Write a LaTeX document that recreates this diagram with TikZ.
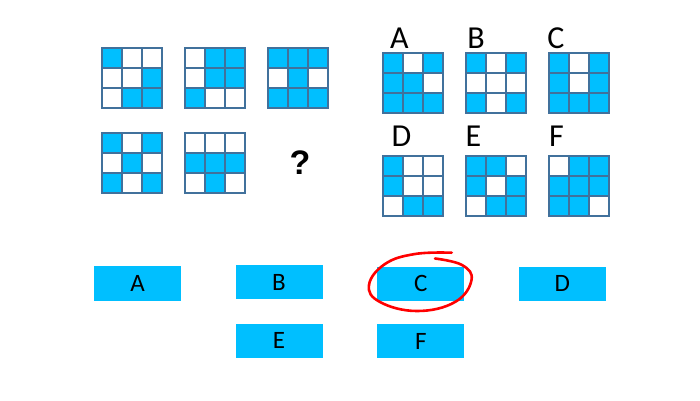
\documentclass[tikz,border=0pt]{standalone}
\usepackage{fontspec}
\setmainfont{Carlito}
\newfontfamily\qfont{Liberation Sans}
\usepackage{tikz}
\usetikzlibrary{positioning}
\definecolor{sky}{RGB}{0,191,255}
\definecolor{edge}{RGB}{65,113,156}
\tikzset{cell/.style={draw=edge, line width=1.3pt, fill=sky},
	choice/.style={fill=sky, minimum width=87pt, minimum height=34.5pt, inner sep=0pt, font=\fontsize{25}{28}\selectfont},
	tag/.style={anchor=base, inner sep=0pt, font=\fontsize{32}{36}\selectfont}}
% one 3x3 panel: top left corner, then the rows (1 = blue)
\newcommand{\Grid}[3]{%
	\foreach \a/\b/\c [count=\r from 0] in {#3}
		\foreach \v [count=\k from 0] in {\a,\b,\c}
			\draw[cell, fill opacity=\v] (#1+20*\k, #2+20*\r) rectangle ++(20,20);}

\begin{document}
\begin{tikzpicture}[x=1pt, y=-1pt]
			\useasboundingbox[fill=white] (0,0) rectangle (700,400);

			% the sequence
			\Grid{102}{48}{1/0/0, 0/0/1, 0/1/1}
			\Grid{185}{48}{0/1/1, 0/1/1, 1/0/0}
			\Grid{268}{48}{1/1/1, 0/1/0, 1/1/1}
			\Grid{102}{133}{1/0/1, 0/1/0, 1/0/1}
			\Grid{185}{133}{0/0/0, 1/1/1, 0/1/0}
			\node[font=\qfont\bfseries\fontsize{34}{38}\selectfont, inner sep=0pt] (q) at (300,163) {?};

			% the options
			\Grid{383}{53}{1/0/1, 1/1/0, 1/1/1}
			\Grid{466}{53}{1/0/1, 0/0/0, 1/0/1}
			\Grid{549}{53}{1/0/1, 1/0/1, 1/1/1}
			\Grid{383}{156}{1/0/0, 1/0/0, 0/1/1}
			\Grid{466}{156}{1/1/0, 1/0/1, 0/1/1}
			\Grid{549}{156}{0/1/1, 1/1/1, 1/1/0}
			\node[tag] (la) at (399.5,48.7) {A};
			\node[tag] (lb) at (476,48.7) {B};
			\node[tag] (lc) at (556,48.7) {C};
			\node[tag] (ld) at (401.5,146.7) {D};
			\node[tag] (le) at (473.5,146.7) {E};
			\node[tag] (lf) at (556.5,146.7) {F};

			% answer buttons
			\node[choice] (A) at (137.5,283.5) {A};
			\node[choice] (B) at (279,282) {B};
			\node[choice] (C) at (420.8,283.8) {C};
			\node[choice] (D) at (562.3,283.8) {D};
			\node[choice, below=24pt of B] (E) {E};
			\node[choice, below=22.5pt of C] (F) {F};

			\draw[red, line width=2.6pt, line cap=round] plot[smooth, tension=0.7] coordinates {(451.7,252.7) (415,254) (385,264) (369,285) (380,302) (417,311) (455,302) (471.5,280) (462,265) (435,258.5)};
		\end{tikzpicture}
\end{document}
